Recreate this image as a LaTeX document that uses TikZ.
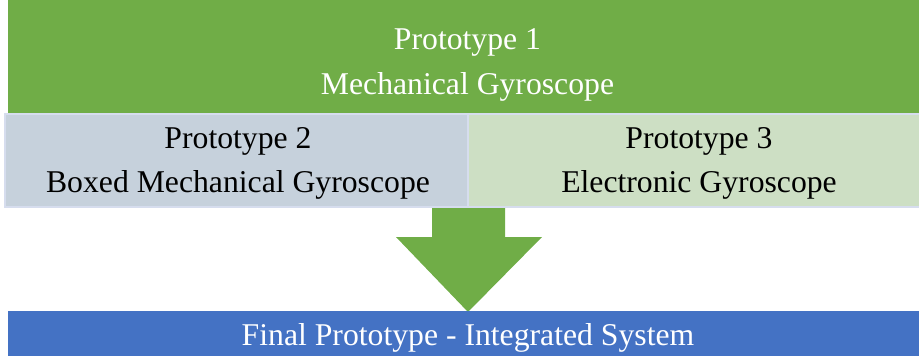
\documentclass[tikz,border=0pt]{standalone}
\usepackage{fontspec}
\setmainfont{Liberation Serif}
\definecolor{topgreen}{HTML}{70AD47}
\definecolor{finalblue}{HTML}{4472C4}
\definecolor{greyblue}{HTML}{C6D1DC}
\definecolor{palegreen}{HTML}{CDDFC4}
\definecolor{edgeline}{HTML}{D6DDEE}
\tikzset{
  px/.style={x=1pt,y=-1pt},
  cell/.style={draw=edgeline,line width=1.2pt},
  lbl/.style={font=\fontsize{31.7}{38}\selectfont,anchor=base,inner sep=0pt},
}
\begin{document}
\begin{tikzpicture}[px]
\useasboundingbox (0,0) rectangle (919,356);
% top band
\fill[topgreen] (8,0) rectangle (919,114);
\node[lbl,text=white] (p1a) at (467.5,49) {Prototype 1};
\node[lbl,text=white] (p1b) at (467.5,94) {Mechanical Gyroscope};
% two sub-prototypes
\draw[cell,fill=greyblue] (5,114) rectangle (468,207);
\draw[cell,fill=palegreen] (468,114) rectangle (925,207);
\node[lbl] (p2a) at (238,148) {Prototype 2};
\node[lbl] (p2b) at (238,192) {Boxed Mechanical Gyroscope};
\node[lbl] (p3a) at (699,148) {Prototype 3};
\node[lbl] (p3b) at (699,192) {Electronic Gyroscope};
% downward block arrow
\fill[topgreen] (432,208) -- (505,208) -- (505,237) -- (542,237) -- (468,312)
  -- (396,237) -- (432,237) -- cycle;
% final band
\fill[finalblue] (8,311) rectangle (919,356);
\node[lbl,text=white] (fin) at (468,345) {Final Prototype - Integrated System};
\end{tikzpicture}
\end{document}
